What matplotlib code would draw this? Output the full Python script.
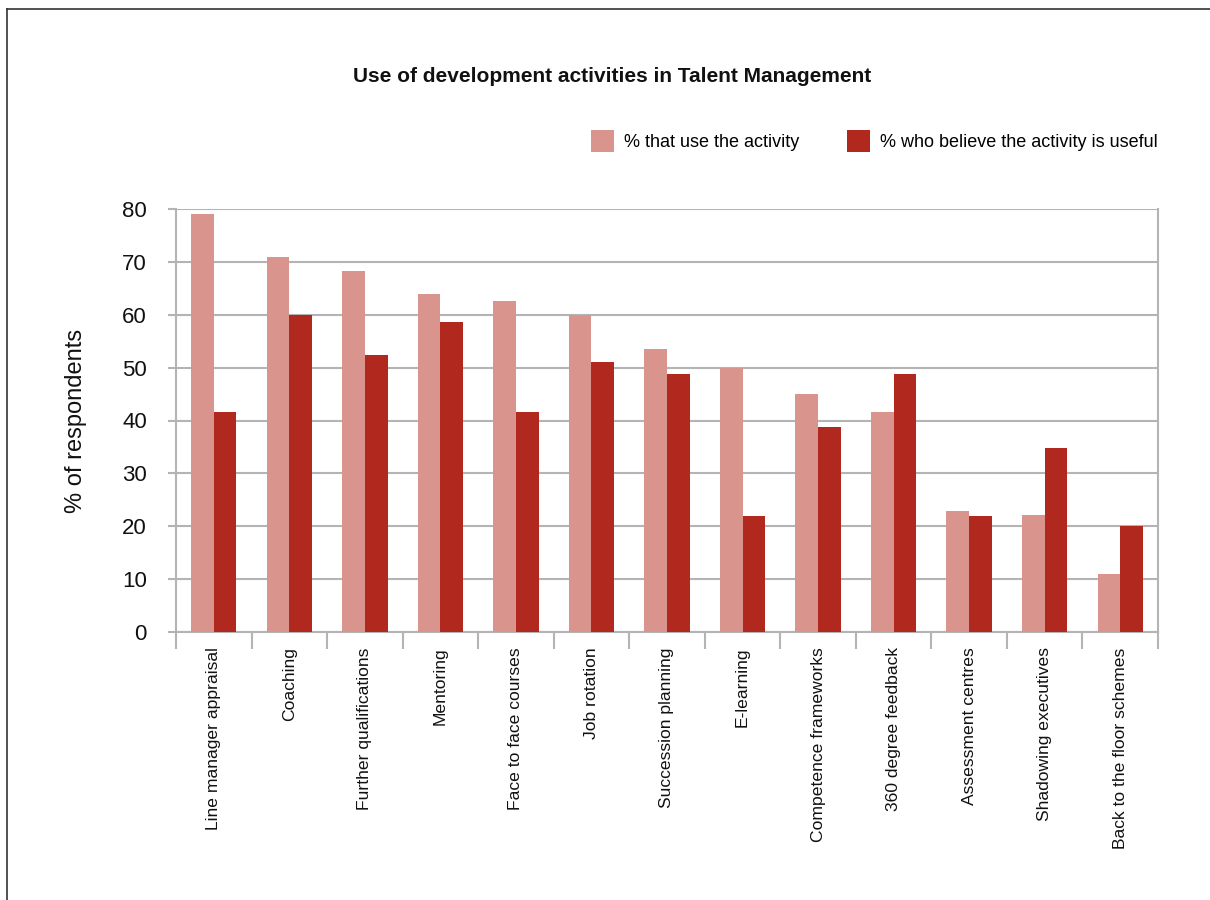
import matplotlib
matplotlib.use("Agg")
import matplotlib.pyplot as plt
from matplotlib.lines import Line2D
import numpy as np

activities = [
    "Line manager appraisal", "Coaching", "Further qualifications", "Mentoring",
    "Face to face courses", "Job rotation", "Succession planning", "E-learning",
    "Competence frameworks", "360 degree feedback", "Assessment centres",
    "Shadowing executives", "Back to the floor schemes",
]
pct_use = [79, 71, 68.3, 63.9, 62.6, 60, 53.5, 50, 45, 41.6, 22.9, 22.1, 11]
pct_useful = [41.6, 60, 52.4, 58.6, 41.6, 51, 48.8, 21.9, 38.8, 48.8, 21.9, 34.8, 20]
y_ticks = [0, 10, 20, 30, 40, 50, 60, 70, 80]

LIGHT = "#d9948d"
DARK = "#b0281e"
GRID = "#b4b4b4"
FONT = ["Liberation Sans", "DejaVu Sans"]
plt.rcParams["font.family"] = FONT

fig = plt.figure(figsize=(12.1, 9), dpi=100)
ax = fig.add_axes([176 / 1210, 1 - 632 / 900, (1158 - 176) / 1210, (632 - 209) / 900])

x = np.arange(len(activities))
w = 0.3
ax.bar(x - w / 2, pct_use, width=w, color=LIGHT, label="% that use the activity", zorder=3)
ax.bar(x + w / 2, pct_useful, width=w, color=DARK, label="% who believe the activity is useful", zorder=3)

ax.set_xlim(-0.5, len(activities) - 0.5)
ax.set_ylim(0, 80)
ax.set_yticks(y_ticks)
ax.set_yticklabels([str(v) for v in y_ticks], fontsize=16, color="#111111")
ax.yaxis.grid(True, color=GRID, linewidth=1.5, zorder=0)
ax.tick_params(axis="y", length=6, width=1.5, color=GRID, pad=15)

ax.set_xticks(x)
ax.set_xticklabels(activities, rotation=90, fontsize=12.6, color="#111111", va="top")
ax.set_xticks(np.arange(-0.5, len(activities)), minor=True)
ax.tick_params(axis="x", which="major", length=0, pad=11)
ax.tick_params(axis="x", which="minor", length=12, width=1.5, color=GRID)

for side in ["left", "right", "bottom"]:
    ax.spines[side].set_color(GRID)
    ax.spines[side].set_linewidth(1.5)
ax.spines["top"].set_visible(False)

ax.set_ylabel("% of respondents", fontsize=17, labelpad=25, color="#111111")

fig.text(612 / 1210, 1 - 76 / 900, "Use of development activities in Talent Management",
         ha="center", va="center", fontsize=15, fontweight="bold", color="#111111")

fig.legend(loc="upper right", bbox_to_anchor=(1174 / 1210, 1 - 114 / 900), ncol=2,
           frameon=False, fontsize=13, handlelength=1.3, handleheight=1.45,
           handletextpad=0.55, columnspacing=2.6)

# page frame along the top and left edges
fig.add_artist(Line2D([7 / 1210, 1], [1 - 9 / 900, 1 - 9 / 900], color="#333333", linewidth=1.2))
fig.add_artist(Line2D([7 / 1210, 7 / 1210], [0, 1 - 9 / 900], color="#333333", linewidth=1.2))

fig.savefig("out.png", dpi=100, facecolor="white")
